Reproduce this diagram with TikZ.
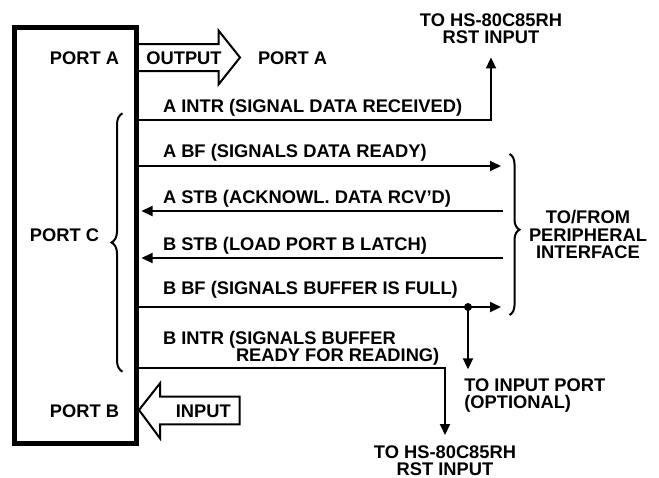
\documentclass[tikz,border=0pt]{standalone}
\usepackage{fontspec}
\setmainfont{Liberation Sans}
\usetikzlibrary{arrows.meta}
\usetikzlibrary{positioning}
\usetikzlibrary{decorations.pathreplacing}

\begin{document}
\begin{tikzpicture}[x=1pt,y=-1pt,>={Triangle[length=11pt,width=10pt]},
	line width=2pt,
	every node/.style={font=\fontsize{18.3}{17.5}\selectfont\bfseries,inner sep=0pt},
	chip/.style={draw,line width=5pt,minimum width=122pt,minimum height=416pt},
	bigarrow/.style={draw,line width=2pt,line join=miter},
	grp brace/.style={decorate,decoration={brace,amplitude=#1}}]

	\useasboundingbox (0,0) rectangle (659,477);

	% the port chip
	\node[chip] (chip) at (75.5,235.7) {};
	\node[anchor=base east] (porta) at (120,64) {PORT A};
	\node[anchor=base east] (portc) at (100,241) {PORT C};
	\node[anchor=base east] (portb) at (120,417) {PORT B};

	% port A output
	\draw[bigarrow] (chip.east |- 0,44) -- (218.5,44) -- (218.5,30.5) -- (240,57.5)
		-- (218.5,84.5) -- (218.5,71) -- (chip.east |- 0,71);
	\node[anchor=base] (outlbl) at (184,64) {OUTPUT};
	\node[anchor=base west] (portaout) at (257,64) {PORT A};

	% port B input
	\draw[bigarrow] (chip.east |- 0,410) -- (160,383.3) -- (160,396.7) -- (239.7,396.7)
		-- (239.7,424.3) -- (160,424.3) -- (160,438.3) -- cycle;
	\node[anchor=base] (inlbl) at (203.3,417) {INPUT};

	% targets
	\node[align=center,anchor=north] (rsttop) at (491,12.5) {\fontsize{18.3}{18}\selectfont TO HS-80C85RH\\RST INPUT};
	\node[align=center,anchor=north] (rstbot) at (445,444.5) {\fontsize{18.3}{16.5}\selectfont TO HS-80C85RH\\RST INPUT};
	\node[align=left,anchor=north west] (inport) at (463.3,377.3) {\fontsize{18.3}{17}\selectfont TO INPUT PORT\\(OPTIONAL)};
	\node[align=center,anchor=north] (periph) at (588,209.5) {TO/FROM\\PERIPHERAL\\INTERFACE};

	% control lines of port C
	\coordinate (aintr) at (492,120);
	\coordinate (abf) at (501,166);
	\coordinate (astb) at (503,211);
	\coordinate (bstb) at (503,258);
	\coordinate (bbf) at (501,307);
	\coordinate (tap) at (468,307);
	\coordinate (bintr) at (445,368);

	\draw[->,shorten >=12.5pt] (chip.east |- aintr) -| (rsttop.south);
	\draw[->] (chip.east |- abf) -- (abf);
	\draw[->,shorten >=2.5pt] (astb) -- (astb -| chip.east);
	\draw[->,shorten >=2.5pt] (bstb) -- (bstb -| chip.east);
	\draw[->] (chip.east |- bbf) -- (bbf);
	\fill (tap) circle (4);
	\draw[->,shorten >=8pt] (tap) -- (tap |- inport.north);
	\draw[->,shorten >=9.5pt] (chip.east |- bintr) -| (rstbot.north);

	\node[anchor=base west] (aintrlbl) at (162,112) {A INTR (SIGNAL DATA RECEIVED)};
	\node[anchor=base west] (abflbl) at (162,157) {A BF (SIGNALS DATA READY)};
	\node[anchor=base west] (astblbl) at (162,203) {A STB (ACKNOWL. DATA RCV'D)};
	\node[anchor=base west] (bstblbl) at (162,250) {B STB (LOAD PORT B LATCH)};
	\node[anchor=base west] (bbflbl) at (162,294) {B BF (SIGNALS BUFFER IS FULL)};
	\node[align=left,anchor=north west] (bintrlbl) at (162,329.8)
		{\fontsize{18.3}{16.5}\selectfont B INTR (SIGNALS BUFFER\\\hspace*{73pt}READY FOR READING)};

	% braces
	\draw[grp brace=11pt] (122.5,371.7) -- (122.5,113.3);
	\draw[grp brace=10pt,decoration={aspect=0.47}] (509.5,154) -- (509.5,315);
\end{tikzpicture}
\end{document}
